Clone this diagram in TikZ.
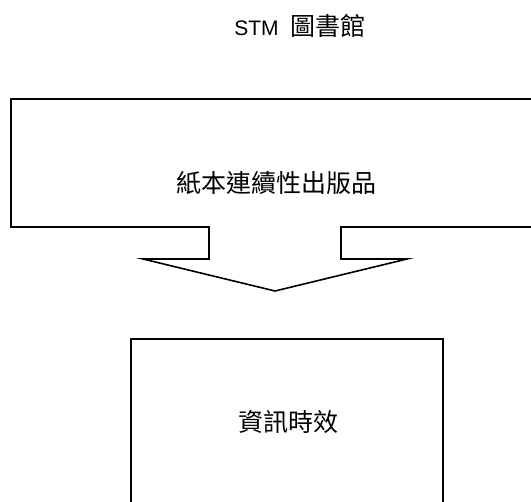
\documentclass[tikz,border=0pt]{standalone}
\usepackage{fontspec}
\setmainfont{Liberation Sans}
\newfontfamily\cjk{Noto Sans CJK TC}
\begin{document}
\begin{tikzpicture}[x=1bp,y=-1bp,
  outline/.style={draw=black,line width=1.6bp,line join=miter},
  cjklabel/.style={font=\cjk\fontsize{25bp}{28bp}\selectfont,inner sep=0pt},
  titlelabel/.style={inner sep=0pt}]
\path[use as bounding box] (0,0) rectangle (531,502);
\clip (0,0) rectangle (531,502);
\node[titlelabel] (title) at (300,26) {\fontsize{21bp}{25bp}\selectfont STM\hspace{12bp}{\cjk\fontsize{25bp}{28bp}\selectfont 圖書館}};
\draw[outline] (11,99) -- (545,99) -- (545,227) -- (341,227) -- (341,259) -- (407,259)
  -- (275,291) -- (143,259) -- (209,259) -- (209,227) -- (11,227) -- cycle;
\node[cjklabel] (source) at (276,183) {紙本連續性出版品};
\draw[outline] (131,520) -- (131,339) -- (443,339) -- (443,520);
\node[cjklabel] (result) at (288,422) {資訊時效};
\end{tikzpicture}
\end{document}
